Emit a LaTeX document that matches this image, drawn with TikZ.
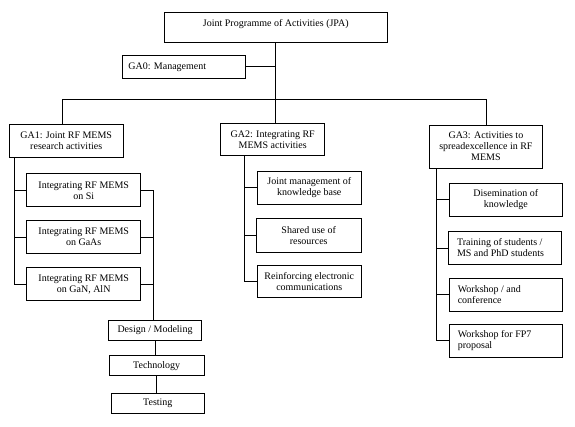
\documentclass[tikz,border=0pt]{standalone}
\usepackage{fontspec}
\setmainfont{Liberation Serif}
\usepackage{tikz}

\begin{document}
\begin{tikzpicture}[x=1pt,y=-1pt]
        % Define styles
        \tikzset{
            wpbox/.style={rectangle, draw, line width=0.8pt, inner sep=2pt, font=\fontsize{10}{11}\selectfont},
            taskbox/.style={wpbox, minimum width=114pt, minimum height=33pt},
            sharebox/.style={wpbox, minimum width=104pt, minimum height=33pt},
            spreadbox/.style={wpbox, minimum width=113pt, minimum height=33pt},
            stepbox/.style={wpbox, minimum width=93pt, minimum height=20pt},
            link/.style={line width=0.8pt}
        }
        \useasboundingbox (0,0) rectangle (575,426);

        % Nodes
        \node[wpbox, minimum width=223pt, minimum height=30pt, text depth=9pt] (jpa_node) at (275.8,27.3) {Joint Programme of Activities (JPA)};
        \node[wpbox, minimum width=122.3pt, minimum height=23pt] (ga_node_0) at (183.9,66.8) {\parbox{111pt}{GA0: Management}};
        \node[wpbox, minimum width=114.3pt, minimum height=33.4pt] (ga_node_1) at (66.2,141) {\parbox{108pt}{\centering GA1: Joint RF MEMS\\ research activities}};
        \node[wpbox, minimum width=104pt, minimum height=32pt] (ga_node_2) at (272.7,139.3) {\parbox{98pt}{\centering GA2: Integrating RF\\ MEMS activities}};
        \node[wpbox, minimum width=113.7pt, minimum height=43.3pt] (ga_node_3) at (485.9,146.7) {\parbox{108pt}{\centering GA3: Activities to\\ spreadexcellence in RF\\ MEMS}};

        % GA1
        \node[taskbox] (task_node_1) at (83.7,190.3) {\parbox{108pt}{\centering Integrating RF MEMS\\ on Si}};
        \node[taskbox] (task_node_2) at (83.7,237.2) {\parbox{108pt}{\centering Integrating RF MEMS\\ on GaAs}};
        \node[taskbox] (task_node_3) at (83.7,284.2) {\parbox{108pt}{\centering Integrating RF MEMS\\ on GaN, AlN}};
        \node[stepbox] (step_node_1) at (155,330) {Design / Modeling};
        \node[stepbox, minimum width=94.7pt] (step_node_2) at (156.7,365.8) {Technology};
        \node[stepbox] (step_node_3) at (157.8,403.7) {Testing};

        % GA2
        \node[sharebox] (share_node_1) at (309.3,187.5) {\parbox{98pt}{\centering Joint management of\\ knowledge base}};
        \node[sharebox, minimum width=105.3pt, minimum height=33.6pt] (share_node_2) at (308.7,235.5) {\parbox{98pt}{\centering Shared use of\\ resources}};
        \node[sharebox, minimum height=31.6pt] (share_node_3) at (309.3,281.5) {\parbox{100pt}{\centering Reinforcing electronic\\ communications}};

        % GA3
        \node[spreadbox] (spread_node_1) at (505.8,199.7) {\parbox{107pt}{\centering Disemination of\\ knowledge}};
        \node[spreadbox] (spread_node_2) at (505,248) {\parbox{96pt}{Training of students /\\ MS and PhD students}};
        \node[spreadbox] (spread_node_3) at (505.8,294.8) {\parbox{96pt}{Workshop / and\\ conference}};
        \node[spreadbox] (spread_node_4) at (505.8,340.8) {\parbox{96pt}{Workshop for FP7\\ proposal}};

        % Lines
        \coordinate (bus) at (275.8,99.7);
        \coordinate (ga1_stem) at ([xshift=6pt]ga_node_1.south west);
        \coordinate (task_bus) at ([xshift=-1.7pt]step_node_1.north);
        \coordinate (ga2_stem) at ([xshift=23.6pt]ga_node_2.south west);
        \coordinate (ga3_stem) at ([xshift=7.7pt]ga_node_3.south west);

        \draw[link] (jpa_node.south) -- (jpa_node.south |- ga_node_2.north);
        \draw[link] (ga_node_0.east) -- (ga_node_0.east -| jpa_node.south);
        \draw[link] ([xshift=-4pt]ga_node_1.north) |- (bus) -| (ga_node_3.north);

        \draw[link] (ga1_stem) |- (task_node_3.west);
        \draw[link] (task_node_1.west) -- (task_node_1.west -| ga1_stem);
        \draw[link] (task_node_2.west) -- (task_node_2.west -| ga1_stem);
        \draw[link] (task_node_1.east) -| (task_bus);
        \draw[link] (task_node_2.east) -- (task_node_2.east -| task_bus);
        \draw[link] (task_node_3.east) -- (task_node_3.east -| task_bus);
        \draw[link] (step_node_1.south) -- (step_node_1.south |- step_node_2.north);
        \draw[link] (step_node_2.south) -- (step_node_2.south |- step_node_3.north);

        \draw[link] (ga2_stem) |- (share_node_3.west);
        \draw[link] (share_node_1.west) -- (share_node_1.west -| ga2_stem);
        \draw[link] (share_node_2.west) -- (share_node_2.west -| ga2_stem);

        \draw[link] (ga3_stem) |- (spread_node_4.west);
        \draw[link] (spread_node_1.west) -- (spread_node_1.west -| ga3_stem);
        \draw[link] (spread_node_2.west) -- (spread_node_2.west -| ga3_stem);
        \draw[link] (spread_node_3.west) -- (spread_node_3.west -| ga3_stem);
    \end{tikzpicture}
\end{document}
